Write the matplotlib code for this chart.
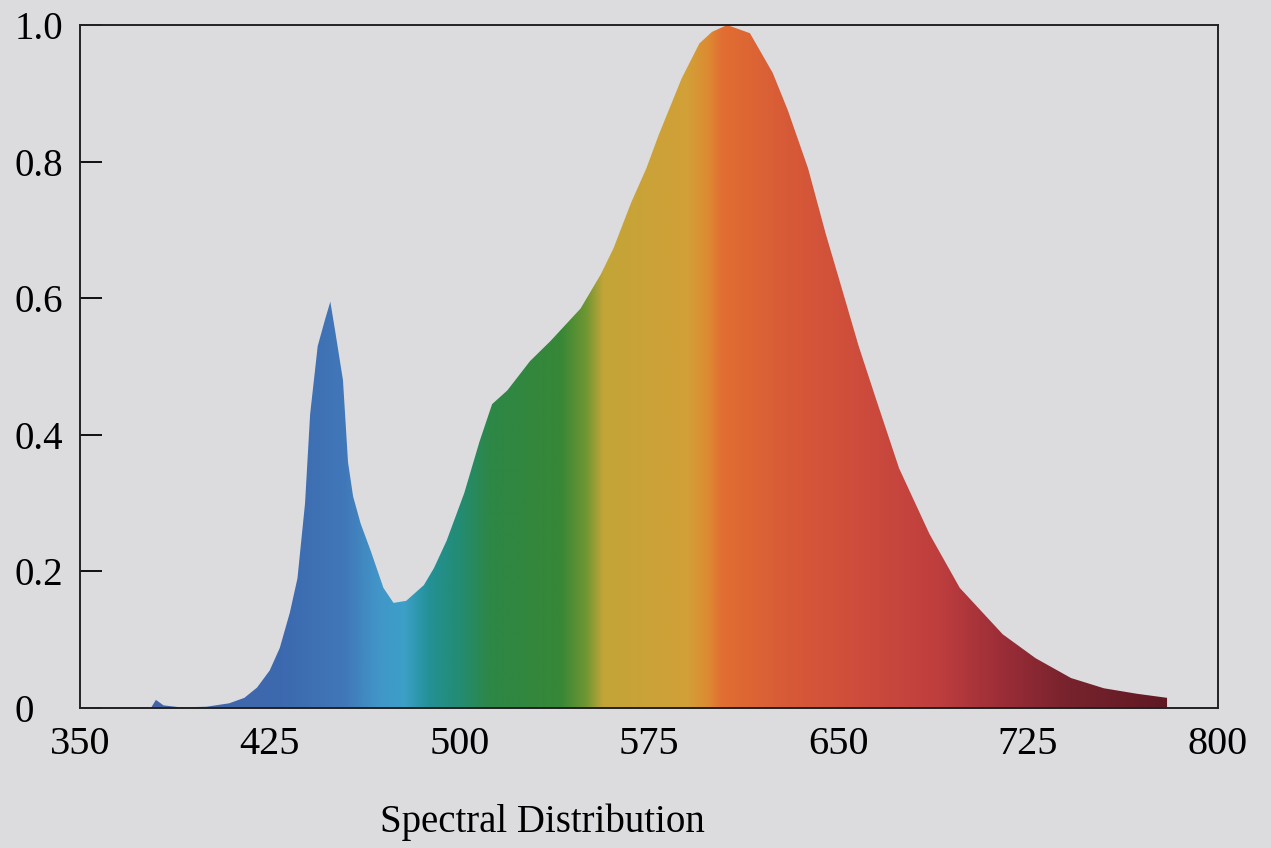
import numpy as np
import matplotlib
matplotlib.use('Agg')
import matplotlib.pyplot as plt

# spectrum (wavelength nm, relative intensity)
wavelength = [378, 380, 383, 390, 400, 409, 415, 420, 425, 429, 433, 436, 439, 441,
              444, 447, 449, 451, 454, 456, 458, 461, 465, 470, 474, 479, 486, 490,
              495, 502, 508, 513, 519, 528, 536, 548, 556, 561, 568, 574, 579, 588,
              595, 600, 606, 615, 624, 630, 638, 645, 652, 658, 665, 674, 686, 698,
              715, 728, 742, 755, 768, 780]
intensity = [0.0, 0.012, 0.004, 0.001, 0.002, 0.007, 0.015, 0.03, 0.055, 0.088, 0.14,
             0.19, 0.30, 0.43, 0.53, 0.57, 0.595, 0.55, 0.48, 0.36, 0.31, 0.27, 0.23,
             0.176, 0.154, 0.157, 0.18, 0.205, 0.245, 0.315, 0.39, 0.445, 0.465, 0.508,
             0.537, 0.585, 0.635, 0.673, 0.74, 0.79, 0.84, 0.922, 0.973, 0.99, 1.0,
             0.988, 0.93, 0.875, 0.79, 0.694, 0.606, 0.53, 0.451, 0.351, 0.255, 0.176,
             0.108, 0.073, 0.044, 0.029, 0.021, 0.015]

x_ticks = [350, 425, 500, 575, 650, 725, 800]
y_ticks = [0, 0.2, 0.4, 0.6, 0.8, 1.0]
y_tick_labels = ['0', '0.2', '0.4', '0.6', '0.8', '1.0']

# colour stops for the rainbow fill
stop_nm = [380, 430, 455, 468, 478, 488, 500, 512, 540, 550, 557, 590, 598, 604,
           630, 660, 690, 715, 740, 780]
stop_rgb = [(70, 100, 165), (60, 105, 175), (65, 120, 185), (65, 150, 200),
            (60, 160, 200), (35, 145, 150), (35, 140, 115), (45, 135, 70),
            (55, 135, 55), (110, 150, 50), (195, 165, 55), (210, 160, 55),
            (220, 140, 50), (225, 110, 50), (215, 90, 55), (205, 75, 60),
            (190, 62, 62), (155, 45, 55), (120, 35, 45), (95, 25, 35)]

paper = '#dcdcdf'
plt.rcParams['font.family'] = ['Liberation Serif', 'DejaVu Serif']

fig = plt.figure(figsize=(12.71, 8.48), dpi=100, facecolor=paper)
ax = fig.add_axes([0.063, 0.165, 0.895, 0.8055])
ax.set_facecolor(paper)

# gradient image clipped by the spectrum outline
grid = np.arange(350, 800.5, 0.5)
rgb = np.array(stop_rgb) / 255.0
cols = np.stack([np.interp(grid, stop_nm, rgb[:, i]) for i in range(3)], axis=-1)
img = ax.imshow(cols[np.newaxis, :, :], extent=[350, 800, 0, 1], aspect='auto',
                origin='lower', interpolation='bilinear', zorder=1)
poly = ax.fill_between(wavelength, intensity, 0, facecolor='none', edgecolor='none')
img.set_clip_path(poly.get_paths()[0], transform=ax.transData)

ax.set_xlim(350, 800)
ax.set_ylim(0, 1.0)
ax.set_xticks(x_ticks)
ax.set_yticks(y_ticks)
ax.set_yticklabels(y_tick_labels)
ax.tick_params(axis='x', length=0, pad=13, labelsize=29)
# labels in the print are flush left
ax.tick_params(axis='y', direction='in', length=16, width=1.3, pad=47, labelsize=28)
for lab in ax.get_yticklabels():
    lab.set_horizontalalignment('left')
for s in ax.spines.values():
    s.set_linewidth(1.4)
    s.set_color('#222222')

fig.text(0.427, 0.03, 'Spectral Distribution', fontsize=28, ha='center', va='center')

fig.savefig('out.png', dpi=100, facecolor=paper)
